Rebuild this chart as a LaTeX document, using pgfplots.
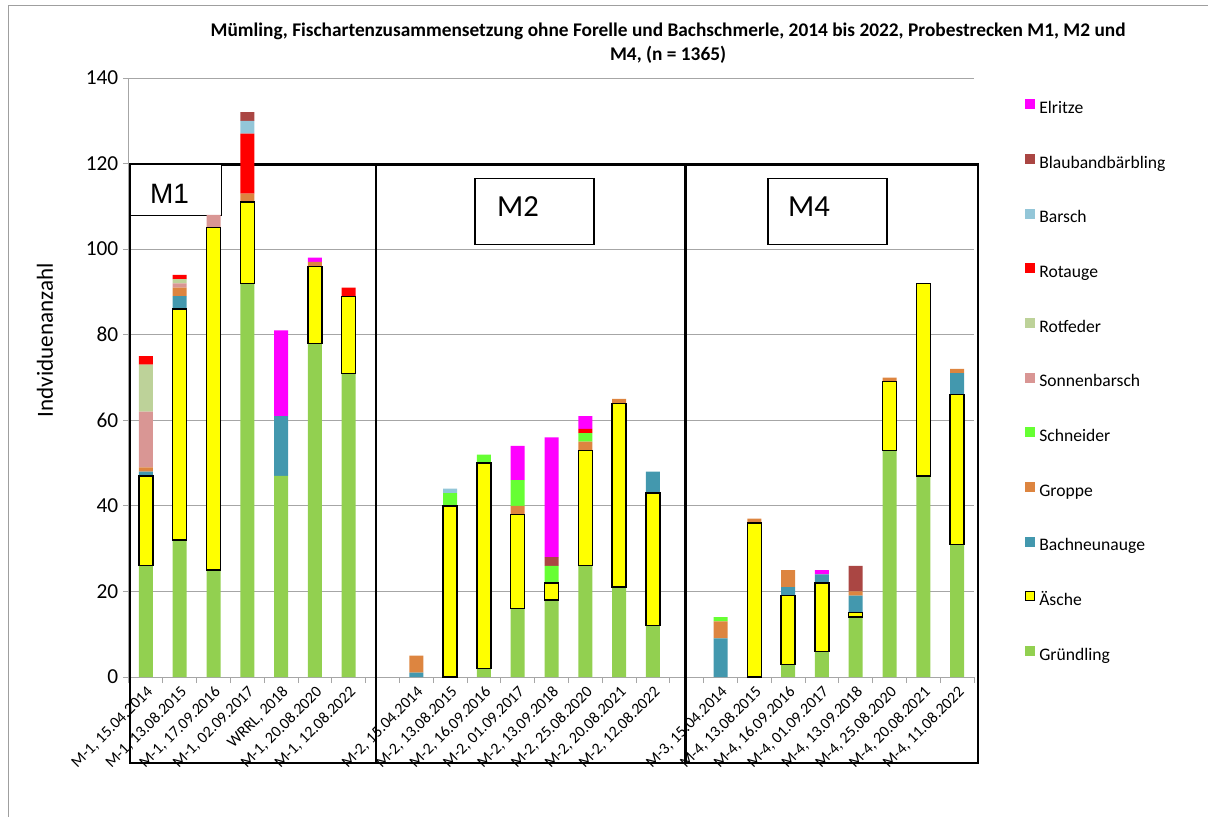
\documentclass[border=0pt]{standalone}
\usepackage{fontspec}
\setmainfont{Carlito}
\newfontfamily\arialfont{Liberation Sans}
\usepackage{pgfplots}
\usepackage{pgfplotstable}
\pgfplotsset{compat=1.18}

\newcommand\fs[2]{\fontsize{#1}{#2}\selectfont}

\definecolor{cGruendling}{HTML}{92D050}
\definecolor{cAesche}{HTML}{FFFF00}
\definecolor{cBachneunauge}{HTML}{4398AE}
\definecolor{cGroppe}{HTML}{DD8540}
\definecolor{cSchneider}{HTML}{66FF33}
\definecolor{cSonnenbarsch}{HTML}{D99694}
\definecolor{cRotfeder}{HTML}{BDD299}
\definecolor{cRotauge}{HTML}{FF0000}
\definecolor{cBarsch}{HTML}{93C6D8}
\definecolor{cBlauband}{HTML}{AA4643}
\definecolor{cElritze}{HTML}{FF00FF}
\definecolor{gridgray}{HTML}{A6A6A6}

% Individuen je Art und Befischung (Spalte pos: Kategorie, 7 und 16 sind Trennfelder)
\pgfplotstableread{
pos Gruendling Aesche Bachneunauge Groppe Schneider Sonnenbarsch Rotfeder Rotauge Barsch Blauband Elritze
0  26 21  1  1 0 13 11  2 0 0  0
1  32 54  3  2 0  1  1  1 0 0  0
2  25 80  0  0 0  3  0  0 0 0  0
3  92 19  0  2 0  0  0 14 3 2  0
4  47  0 14  0 0  0  0  0 0 0 20
5  78 18  0  1 0  0  0  0 0 0  1
6  71 18  0  0 0  0  0  2 0 0  0
7   0  0  0  0 0  0  0  0 0 0  0
8   0  0  1  4 0  0  0  0 0 0  0
9   0 40  0  0 3  0  0  0 1 0  0
10  2 48  0  0 2  0  0  0 0 0  0
11 16 22  0  2 6  0  0  0 0 0  8
12 18  4  0  0 4  0  0  0 0 2 28
13 26 27  0  2 2  0  0  1 0 0  3
14 21 43  0  1 0  0  0  0 0 0  0
15 12 31  5  0 0  0  0  0 0 0  0
16  0  0  0  0 0  0  0  0 0 0  0
17  0  0  9  4 1  0  0  0 0 0  0
18  0 36  0  1 0  0  0  0 0 0  0
19  3 16  2  4 0  0  0  0 0 0  0
20  6 16  2  0 0  0  0  0 0 0  1
21 14  1  4  1 0  0  0  0 0 6  0
22 53 16  0  1 0  0  0  0 0 0  0
23 47 45  0  0 0  0  0  0 0 0  0
24 31 35  5  1 0  0  0  0 0 0  0
}\fishdata

% Aesche-Balken mit Rahmen: Sockel (Gruendling) und Aesche, nur wo Aesche > 0
\pgfplotstableread{
pos base Aesche
0  26 21
1  32 54
2  25 80
3  92 19
5  78 18
6  71 18
9   0 40
10  2 48
11 16 22
12 18  4
13 26 27
14 21 43
15 12 31
18  0 36
19  3 16
20  6 16
21 14  1
22 53 16
23 47 45
24 31 35
}\aescheframe

\pgfplotsset{
  chartframe/.style={
    scale only axis, width=633.75pt, height=449.25pt,
    at={(96.75pt,-507.75pt)}, anchor=south west,
    xmin=-0.5, xmax=24.5, ymin=0, ymax=140,
    enlargelimits=false, clip=false,
  },
  sq legend/.style={legend image code/.code={%
    \path[##1, draw=none] (0pt,0pt) rectangle (7.5pt,7.5pt);}},
}

\begin{document}
\begin{tikzpicture}
\path[use as bounding box] (0pt,0pt) rectangle (906pt,-612.75pt);

% Achsen, Gitter, Beschriftung
\begin{axis}[chartframe,
  axis lines*=left,
  axis line style={gridgray, line width=0.75pt},
  ymajorgrids, grid style={gridgray, line width=0.75pt},
  ytick={0,20,...,140},
  xtick={-0.5,0.5,...,24.5},
  x tick label as interval,
  xticklabels={{M-1, 15.04.2014},{M-1, 13.08.2015},{M-1, 17.09.2016},{M-1, 02.09.2017},{WRRL, 2018},{M-1, 20.08.2020},{M-1, 12.08.2022},{},
    {M-2, 15.04.2014},{M-2, 13.08.2015},{M-2, 16.09.2016},{M-2, 01.09.2017},{M-2, 13.09.2018},{M-2, 25.08.2020},{M-2, 20.08.2021},{M-2, 12.08.2022},{},
    {M-3, 15.04.2014},{M-4, 13.08.2015},{M-4, 16.09.2016},{M-4, 01.09.2017},{M-4, 13.09.2018},{M-4, 25.08.2020},{M-4, 20.08.2021},{M-4, 11.08.2022}},
  tick align=outside,
  major tick length=4.5pt,
  tick style={gridgray, line width=0.75pt},
  /pgf/number format/assume math mode=true,
  yticklabel style={font=\fs{16}{18}},
  xticklabel style={font=\fs{12}{14}, rotate=45, anchor=north east, inner sep=1pt},
  title={Mümling, Fischartenzusammensetzung ohne Forelle und Bachschmerle, 2014 bis 2022, Probestrecken M1, M2 und\\M4, (n = 1365)},
  title style={at={(axis description cs:0.638,1.044)}, anchor=center, align=center, font=\bfseries\fs{14.5}{18}},
  ylabel={Indviduenanzahl},
  every axis y label/.style={at={(axis description cs:-0.0994,0.562)}, rotate=90, anchor=center, font=\fs{17.3}{20}},
]
\end{axis}

% Rahmen der Probestrecken
\begin{scope}[x=0.75pt, y=-0.75pt]
  \draw[gray!75, line width=0.75pt] (8,817) -- (8,6) -- (1208,6);
  \draw[black, line width=1.6pt] (130,164.5) rectangle (978,763);
  \draw[black, line width=1.6pt] (376,164.5) -- (376,763) (685.5,164.5) -- (685.5,763);
  \draw[black, line width=1.1pt, fill=white] (130,164.5) rectangle (221.7,215.3);
  \node[font=\arialfont\fs{21}{25}, anchor=base, inner sep=0pt] at (169.5,203.3) {M1};
  \draw[black, line width=1.1pt, fill=white] (475,178.3) rectangle (594,244.3);
  \node[font=\fs{23}{27}, anchor=base, inner sep=0pt] at (518,216.7) {M2};
  \draw[black, line width=1.1pt, fill=white] (768,178.3) rectangle (887,244.3);
  \node[font=\fs{23}{27}, anchor=base, inner sep=0pt] at (809,216.7) {M4};
\end{scope}

% gestapelte Balken
\begin{axis}[chartframe, hide axis, ybar stacked, bar width=10.5pt,
  reverse legend, legend cell align=left,
  legend style={at={(axis description cs:1.0604,0.9649)}, anchor=north west,
    draw=none, fill=none, inner sep=0pt, row sep=27.75pt, font=\fs{13.2}{15},
    nodes={inner sep=0pt, text height=9pt, text depth=2.5pt},
    /tikz/every odd column/.append style={column sep=3pt}},
]
\addplot[draw=none, fill=cGruendling, sq legend] table[x=pos, y=Gruendling]{\fishdata};
\addlegendentry{Gründling}
\addplot[draw=none, fill=cAesche, legend image code/.code={%
    \path[fill=cAesche, draw=black, line width=0.75pt] (0.4pt,0.4pt) rectangle (7.1pt,7.1pt);}]
  table[x=pos, y=Aesche]{\fishdata};
\addlegendentry{Äsche}
\addplot[draw=none, fill=cBachneunauge, sq legend] table[x=pos, y=Bachneunauge]{\fishdata};
\addlegendentry{Bachneunauge}
\addplot[draw=none, fill=cGroppe, sq legend] table[x=pos, y=Groppe]{\fishdata};
\addlegendentry{Groppe}
\addplot[draw=none, fill=cSchneider, sq legend] table[x=pos, y=Schneider]{\fishdata};
\addlegendentry{Schneider}
\addplot[draw=none, fill=cSonnenbarsch, sq legend] table[x=pos, y=Sonnenbarsch]{\fishdata};
\addlegendentry{Sonnenbarsch}
\addplot[draw=none, fill=cRotfeder, sq legend] table[x=pos, y=Rotfeder]{\fishdata};
\addlegendentry{Rotfeder}
\addplot[draw=none, fill=cRotauge, sq legend] table[x=pos, y=Rotauge]{\fishdata};
\addlegendentry{Rotauge}
\addplot[draw=none, fill=cBarsch, sq legend] table[x=pos, y=Barsch]{\fishdata};
\addlegendentry{Barsch}
\addplot[draw=none, fill=cBlauband, sq legend] table[x=pos, y=Blauband]{\fishdata};
\addlegendentry{Blaubandbärbling}
\addplot[draw=none, fill=cElritze, sq legend] table[x=pos, y=Elritze]{\fishdata};
\addlegendentry{Elritze}
\end{axis}

% Rahmen der Aesche-Segmente
\begin{axis}[chartframe, hide axis, ybar stacked, bar width=10.5pt]
\addplot[draw=none, fill=none] table[x=pos, y=base]{\aescheframe};
\addplot[fill=cAesche, draw=black, line width=1pt] table[x=pos, y=Aesche]{\aescheframe};
\end{axis}
\end{tikzpicture}
\end{document}
